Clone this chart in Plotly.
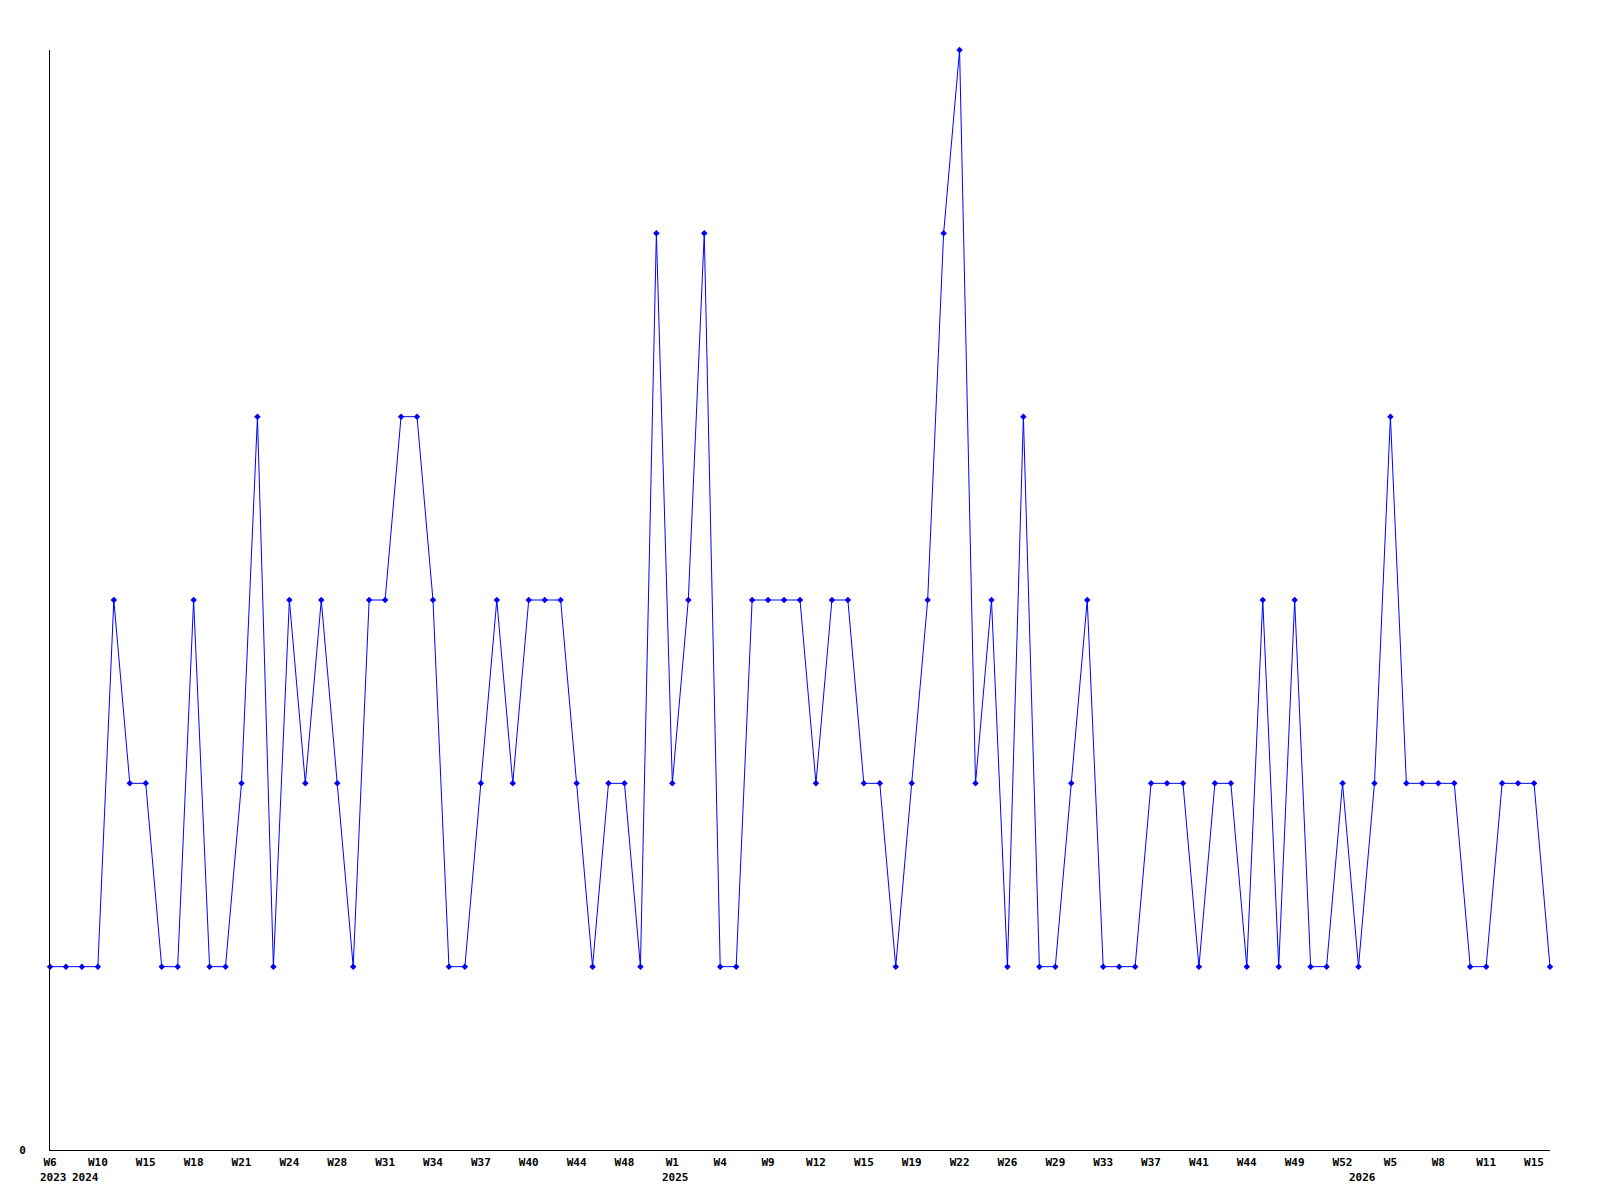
import plotly.graph_objects as go

values = [1, 1, 1, 1, 3, 2, 2, 1, 1, 3,
          1, 1, 2, 4, 1, 3, 2, 3, 2, 1,
          3, 3, 4, 4, 3, 1, 1, 2, 3, 2,
          3, 3, 3, 2, 1, 2, 2, 1, 5, 2,
          3, 5, 1, 1, 3, 3, 3, 3, 2, 3,
          3, 2, 2, 1, 2, 3, 5, 6, 2, 3,
          1, 4, 1, 1, 2, 3, 1, 1, 1, 2,
          2, 2, 1, 2, 2, 1, 3, 1, 3, 1,
          1, 2, 1, 2, 4, 2, 2, 2, 2, 1,
          1, 2, 2, 2, 1]

# Week labels shown under every third point
tick_text = ["W6", "W10", "W15", "W18", "W21", "W24", "W28", "W31", "W34", "W37",
             "W40", "W44", "W48", "W1", "W4", "W9", "W12", "W15", "W19", "W22",
             "W26", "W29", "W33", "W37", "W41", "W44", "W49", "W52", "W5", "W8",
             "W11", "W15"]
tick_step = 3

# Year labels and the point index where each year starts
years = ["2023", "2024", "2025", "2026"]
year_start_idx = [0, 2, 39, 82]

x_idx = list(range(len(values)))
tick_vals = [i * tick_step for i in range(len(tick_text))]

FONT = "DejaVu Sans Mono"
BLUE = "#0000FF"

fig = go.Figure()
fig.add_trace(go.Scatter(
    x=x_idx, y=values, mode="lines+markers",
    line=dict(color=BLUE, width=1),
    marker=dict(symbol="diamond", size=5, color=BLUE),
    cliponaxis=False, hoverinfo="x+y", showlegend=False,
))

for yr, idx in zip(years, year_start_idx):
    fig.add_annotation(
        x=idx, y=0, xref="x", yref="paper", text="<b>%s</b>" % yr,
        showarrow=False, xanchor="left", yanchor="middle",
        xshift=-12, yshift=-27,
        font=dict(family=FONT, size=11, color="black"),
    )

# page body adds an 8px margin, so the figure is 16px smaller than the window
fig.update_layout(
    width=1584, height=1184,
    margin=dict(l=42, r=42, t=42, b=42, pad=0),
    paper_bgcolor="white", plot_bgcolor="white",
    font=dict(family=FONT, size=11, color="black"),
    xaxis=dict(
        range=[0, len(values) - 1], showgrid=False, zeroline=False,
        showline=True, linecolor="black", linewidth=1,
        tickmode="array", tickvals=tick_vals,
        ticktext=["<b>%s</b>" % t for t in tick_text],
        ticks="", ticklabelstandoff=2,
    ),
    yaxis=dict(
        range=[0, 6], showgrid=False, zeroline=False,
        showline=True, linecolor="black", linewidth=1,
        tickmode="array", tickvals=[0], ticktext=["<b>0</b>"],
        ticks="", ticklabelstandoff=21,
    ),
)

fig.write_html("out.html")
